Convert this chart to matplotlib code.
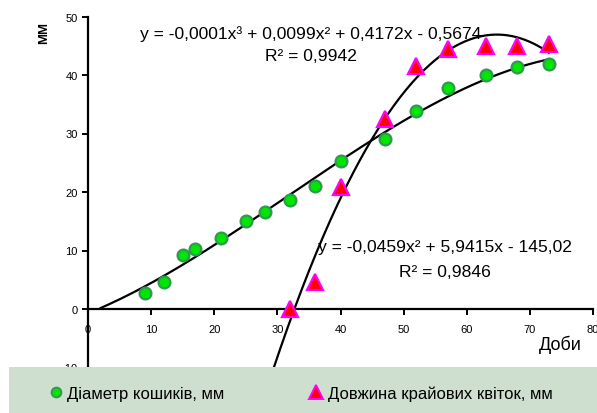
import numpy as np
import matplotlib
matplotlib.use("Agg")
import matplotlib.pyplot as plt
from matplotlib.patches import Rectangle
from matplotlib.lines import Line2D

plt.rcParams['font.family'] = ['Liberation Sans', 'DejaVu Sans']

# Data
days_d = [9, 12, 15, 17, 21, 25, 28, 32, 36, 40, 47, 52, 57, 63, 68, 73]
diam = [2.7, 4.6, 9.2, 10.2, 12.2, 15.1, 16.6, 18.7, 21.0, 25.3, 29.0, 33.8, 37.7, 40.0, 41.3, 41.9]
days_l = [32, 36, 40, 47, 52, 57, 63, 68, 73]
length = [0.0, 4.6, 20.8, 32.5, 41.5, 44.5, 45.0, 45.0, 45.3]

label_d = "Діаметр кошиків, мм"
label_l = "Довжина крайових квіток, мм"
eq_d = "y = -0,0001x³ + 0,0099x² + 0,4172x - 0,5674\nR² = 0,9942"
eq_l = "y = -0,0459x² + 5,9415x - 145,02\nR² = 0,9846"
xlabel = "Доби"
ylabel = "ММ"
xticks = list(range(0, 81, 10))
yticks = list(range(-10, 51, 10))

W, H = 597, 414
fig = plt.figure(figsize=(W / 100, H / 100), dpi=100)
ax = fig.add_axes([88 / W, 1 - 368.5 / H, (593 - 88) / W, (368.5 - 17.5) / H])

# trend lines (fits of the data)
c3 = np.polyfit(days_d, diam, 3)
xs3 = np.linspace(2, 73, 200)
ax.plot(xs3, np.polyval(c3, xs3), color='black', lw=1.6, zorder=2)
c2 = np.polyfit(days_l, length, 2)
xs2 = np.linspace(27, 73, 200)
ax.plot(xs2, np.polyval(c2, xs2), color='black', lw=1.6, zorder=2)

ax.plot(days_d, diam, 'o', ms=8.5, mfc='#00e600', mec='#2e9a4e', mew=1.6, zorder=3)
ax.plot(days_l, length, '^', ms=11, mfc='#ff0000', mec='#ff00ff', mew=1.6, zorder=3)

ax.set_xlim(0, 80)
ax.set_ylim(-10, 50)
ax.set_xticks(xticks)
ax.set_yticks(yticks)
ax.set_xticklabels([str(t) for t in xticks])
ax.set_yticklabels([str(t) for t in yticks])
ax.spines['top'].set_visible(False)
ax.spines['right'].set_visible(False)
ax.spines['bottom'].set_position(('data', 0))
for s in ('left', 'bottom'):
    ax.spines[s].set_linewidth(1.6)
ax.tick_params(axis='both', labelsize=8, width=1.4, length=4, direction='out')
ax.tick_params(axis='x', pad=7)
ax.patch.set_alpha(0)

fig.text(311 / W, 1 - 45 / H, eq_d, ha='center', va='center', fontsize=12.6, linespacing=1.65)
fig.text(445 / W, 1 - 260 / H, eq_l, ha='center', va='center', fontsize=12.6, linespacing=1.8)
fig.text(560 / W, 1 - 345 / H, xlabel, ha='center', va='center', fontsize=13)
fig.text(44 / W, 1 - 33 / H, ylabel, ha='center', va='center', fontsize=9.5,
         fontweight='bold', rotation=90)

# legend area
fig.add_artist(Rectangle((9 / W, 0), 1 - 9 / W, 46 / H, transform=fig.transFigure,
                         facecolor='#cfdfcf', edgecolor='none', zorder=5))
handles = [Line2D([], [], ls='none', marker='o', ms=7, mfc='#00e600', mec='#2e9a4e', mew=1.4),
           Line2D([], [], ls='none', marker='^', ms=10, mfc='#ff0000', mec='#ff00ff', mew=1.4)]
leg = fig.legend(handles, [label_d, label_l], ncol=2, frameon=False, fontsize=12,
                 loc='center left', bbox_to_anchor=(49 / W, 1 - 394 / H),
                 handlelength=0.8, handletextpad=0.3, columnspacing=5.1,
                 borderaxespad=0, borderpad=0)
leg.set_zorder(6)

fig.savefig("out.png", dpi=100)
